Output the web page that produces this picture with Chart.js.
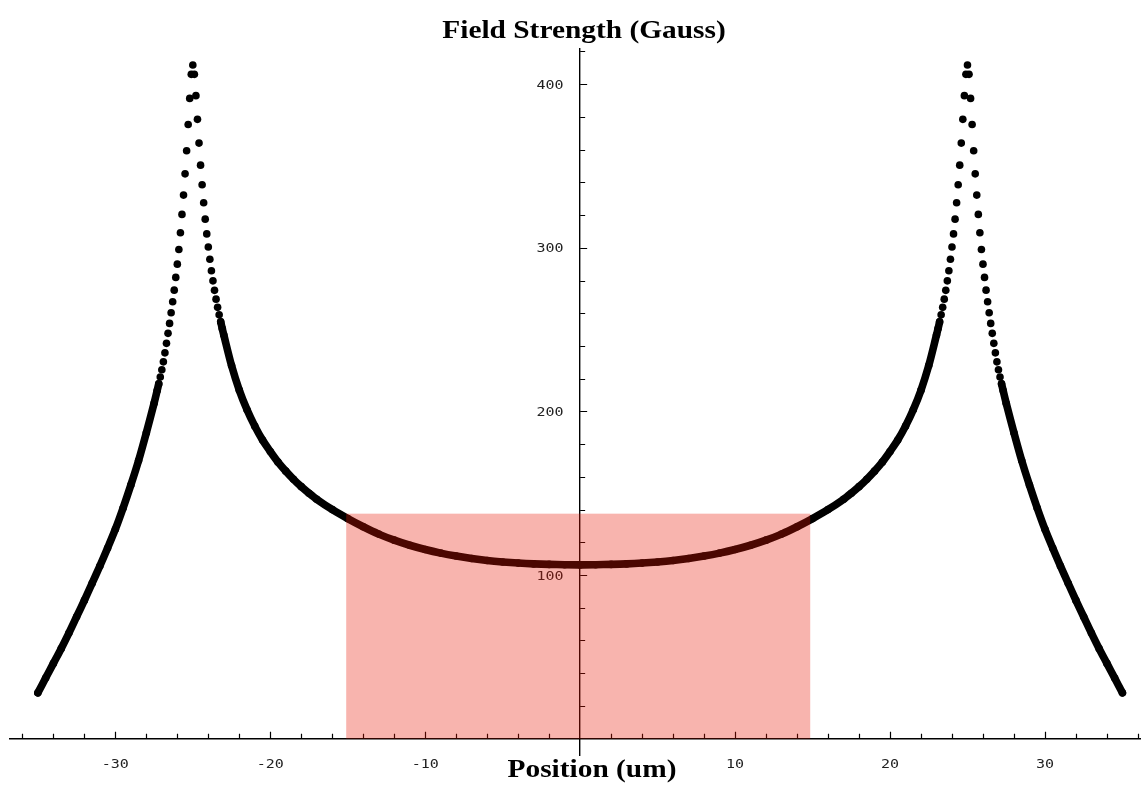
<!DOCTYPE html>
<html>
<head>
<meta charset="utf-8">
<title>Field Strength</title>
<script src="https://cdn.jsdelivr.net/npm/chart.js@4.4.1/dist/chart.umd.min.js"></script>
<style>
  html, body { margin: 0; padding: 0; background: #fff; }
  #wrap { position: relative; width: 1141px; height: 789px; }
</style>
</head>
<body>
<div id="wrap"><canvas id="fieldChart"></canvas></div>
<script>
// position across the gap (um)
const positions = [
  -35, -34.5, -34, -33.5, -33, -32.5, -32, -31.5, -31, -30.5, -30, -29.5, -29, -28.5, -28, -27.5,
  -27.3, -27.2, -27.1, -27.0, -26.9, -26.8, -26.7, -26.6, -26.5, -26.4, -26.3, -26.2, -26.1, -26.0,
  -25.9, -25.8, -25.7, -25.6, -25.5, -25.4, -25.3, -25.2, -25.1, -25.0,
  -24.9, -24.8, -24.7, -24.6, -24.5, -24.4, -24.3, -24.2, -24.1, -24.0,
  -23.9, -23.8, -23.7, -23.6, -23.5, -23.4, -23.3, -23.2, -23.1, -23.0,
  -22.5, -22, -21.5, -21, -20.5, -20, -19.5, -19, -18.5, -18, -17.5, -17,
  -16, -15, -14, -13, -12, -11, -10, -9, -8, -7, -6, -5, -4, -3, -2, -1,
  0,
  1, 2, 3, 4, 5, 6, 7, 8, 9, 10, 11, 12, 13, 14, 15, 16,
  17, 17.5, 18, 18.5, 19, 19.5, 20, 20.5, 21, 21.5, 22, 22.5,
  23.0, 23.1, 23.2, 23.3, 23.4, 23.5, 23.6, 23.7, 23.8, 23.9,
  24.0, 24.1, 24.2, 24.3, 24.4, 24.5, 24.6, 24.7, 24.8, 24.9,
  25.0, 25.1, 25.2, 25.3, 25.4, 25.5, 25.6, 25.7, 25.8, 25.9,
  26.0, 26.1, 26.2, 26.3, 26.4, 26.5, 26.6, 26.7, 26.8, 26.9, 27.0, 27.1, 27.2, 27.3,
  27.5, 28, 28.5, 29, 29.5, 30, 30.5, 31, 31.5, 32, 32.5, 33, 33.5, 34, 34.5, 35
];

// field strength (Gauss)
const fieldGauss = [
  28, 37, 46, 55, 64.5, 74.5, 84.5, 95, 105.5, 116.5, 128, 141, 155, 170, 187, 205,
  212.8, 216.8, 221, 225.5, 230.3, 235.8, 241.6, 247.7, 253.8, 260.3, 267, 274.1, 281.9, 290,
  299, 309.2, 320.4, 332.2, 345.2, 359.3, 375.4, 391.3, 406, 411.7,
  406, 393, 378.5, 364, 350.5, 338.5, 327.5, 317.5, 308.5, 300.5,
  293, 286, 279.8, 274, 268.6, 263.6, 259, 254.7, 250.6, 246.7,
  228, 213, 201, 191, 182.5, 175.5, 169, 163.5, 158.5, 154, 150, 146.3,
  140, 134.5, 129.5, 125, 121.3, 118.2, 115.6, 113.4, 111.6, 110.1, 108.9, 108, 107.3, 106.8, 106.5, 106.3,
  106.2,
  106.3, 106.5, 106.8, 107.3, 108, 108.9, 110.1, 111.6, 113.4, 115.6, 118.2, 121.3, 125, 129.5, 134.5, 140,
  146.3, 150, 154, 158.5, 163.5, 169, 175.5, 182.5, 191, 201, 213, 228,
  246.7, 250.6, 254.7, 259, 263.6, 268.6, 274, 279.8, 286, 293,
  300.5, 308.5, 317.5, 327.5, 338.5, 350.5, 364, 378.5, 393, 406,
  411.7, 406, 391.3, 375.4, 359.3, 345.2, 332.2, 320.4, 309.2, 299,
  290, 281.9, 274.1, 267, 260.3, 253.8, 247.7, 241.6, 235.8, 230.3, 225.5, 221, 216.8, 212.8,
  205, 187, 170, 155, 141, 128, 116.5, 105.5, 95, 84.5, 74.5, 64.5, 55, 46, 37, 28
];

const xTickValues = [-30, -20, -10, 10, 20, 30];
const xTickLabels = ['-30', '-20', '-10', '10', '20', '30'];
const yTickValues = [100, 200, 300, 400];
const yTickLabels = ['100', '200', '300', '400'];

// shaded working region
const bandPositions = [-15.1, 14.85];
const bandTop = 137.5;

const xTitle = 'Position (um)';
const yTitle = 'Field Strength (Gauss)';


function stretchText(ctx, text, x, y, font, sx, align, color) {
  ctx.save();
  ctx.font = font;
  ctx.fillStyle = color || '#000';
  ctx.textAlign = align;
  ctx.textBaseline = 'alphabetic';
  ctx.translate(x, y);
  ctx.scale(sx, 1);
  ctx.fillText(text, 0, 0);
  ctx.restore();
}

// ticks point into the plot, minor every 2 um / 20 G
const axisDecor = {
  id: 'axisDecor',
  beforeDatasetsDraw(chart) {
    const ctx = chart.ctx;
    const xs = chart.scales.x;
    const ys = chart.scales.y;
    const x0 = xs.getPixelForValue(0);
    const y0 = ys.getPixelForValue(0);

    ctx.save();
    ctx.strokeStyle = '#000';
    ctx.lineWidth = 1.2;
    ctx.beginPath();
    for (let v = -36; v <= 36; v += 2) {
      if (v === 0) continue;
      const px = Math.round(xs.getPixelForValue(v)) + 0.5;
      const len = v % 10 === 0 ? 7 : 5;
      ctx.moveTo(px, y0);
      ctx.lineTo(px, y0 - len);
    }
    for (let v = 20; v <= 420; v += 20) {
      const py = Math.round(ys.getPixelForValue(v)) + 0.5;
      const len = v % 100 === 0 ? 7 : 5;
      ctx.moveTo(x0, py);
      ctx.lineTo(x0 + len, py);
    }
    ctx.stroke();
    ctx.restore();

    const tickFont = '12.5px "DejaVu Sans Mono"';
    xTickValues.forEach((v, i) => {
      stretchText(ctx, xTickLabels[i], xs.getPixelForValue(v), y0 + 29, tickFont, 1.2, 'center', '#222');
    });
    yTickValues.forEach((v, i) => {
      stretchText(ctx, yTickLabels[i], x0 - 16.5, ys.getPixelForValue(v) + 4.5, tickFont, 1.2, 'right', '#222');
    });
  },
  afterDatasetsDraw(chart) {
    const ctx = chart.ctx;
    const xs = chart.scales.x;
    const ys = chart.scales.y;
    const left = xs.getPixelForValue(bandPositions[0]);
    const right = xs.getPixelForValue(bandPositions[1]);
    const top = ys.getPixelForValue(bandTop);
    const bottom = ys.getPixelForValue(0);
    ctx.save();
    ctx.fillStyle = 'rgba(233, 21, 2, 0.32)';
    ctx.fillRect(left, top, right - left, bottom - top);
    ctx.restore();
  },
  afterDraw(chart) {
    const ctx = chart.ctx;
    const titleFont = 'bold 25px "Liberation Serif"';
    stretchText(ctx, yTitle, 584, 37.5, titleFont, 1.175, 'center');
    stretchText(ctx, xTitle, 592, 776.5, titleFont, 1.175, 'center');
  }
};

const points = positions.map((p, i) => ({ x: p, y: fieldGauss[i] }));

// near the peaks the samples spread apart and show up as single dots
function segmentColor(ctx) {
  const dx = ctx.p1.x - ctx.p0.x;
  const dy = ctx.p1.y - ctx.p0.y;
  const fine = (positions[ctx.p1DataIndex] - positions[ctx.p0DataIndex]) < 0.15;
  return fine && Math.hypot(dx, dy) > 7 ? 'rgba(0,0,0,0)' : '#000';
}

new Chart(document.getElementById('fieldChart'), {
  type: 'line',
  data: {
    datasets: [{
      data: points,
      borderColor: '#000',
      borderWidth: 7.6,
      borderCapStyle: 'round',
      borderJoinStyle: 'round',
      tension: 0.3,
      pointRadius: 3.8,
      pointBorderWidth: 0,
      pointBackgroundColor: '#000',
      fill: false,
      segment: { borderColor: segmentColor }
    }]
  },
  options: {
    responsive: true,
    maintainAspectRatio: false,
    animation: false,
    layout: { autoPadding: false, padding: { left: 10, right: 0, top: 49, bottom: 34 } },
    plugins: {
      legend: { display: false },
      tooltip: { enabled: false }
    },
    scales: {
      x: {
        type: 'linear',
        min: -36.8,
        max: 36.2,
        position: { y: 0 },
        grid: { display: false },
        ticks: { display: false },
        border: { display: true, color: '#000', width: 1.4 }
      },
      y: {
        type: 'linear',
        min: -10,
        max: 421.5,
        position: { x: 0 },
        grid: { display: false },
        ticks: { display: false },
        border: { display: true, color: '#000', width: 1.4 }
      }
    }
  },
  plugins: [axisDecor]
});
</script>
</body>
</html>
